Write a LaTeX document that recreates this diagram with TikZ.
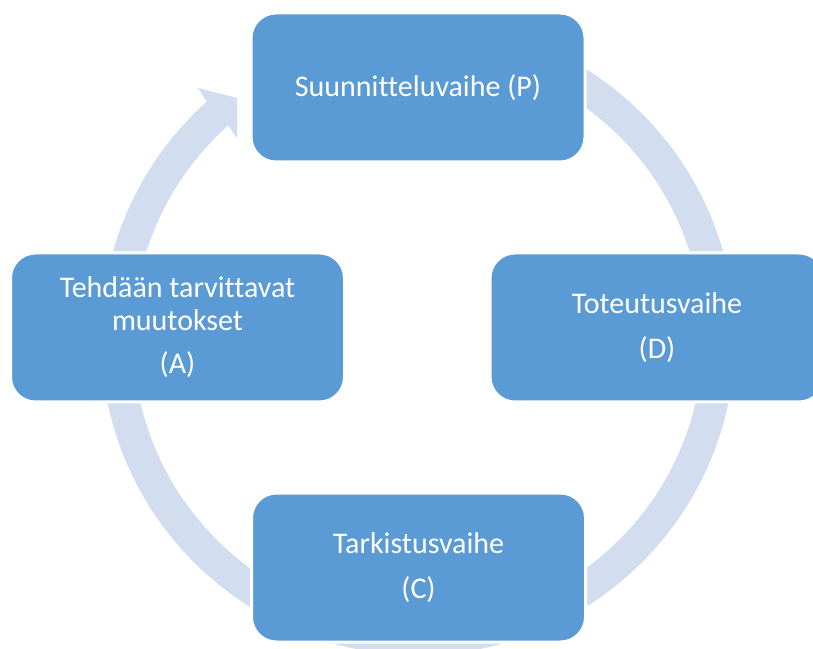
\documentclass[tikz,border=0pt]{standalone}
\usepackage{fontspec}
\setmainfont{Carlito}[Ligatures=NoCommon]
\usetikzlibrary{calc}
\definecolor{boxblue}{HTML}{5B9BD5}
\definecolor{ringblue}{HTML}{D2DEEF}
\tikzset{
  phasebox/.style={fill=boxblue, draw=white, line width=3pt, rounded corners=25pt,
    minimum width=334pt, minimum height=149pt, inner sep=0pt, text=white,
    align=center, font=\fontsize{30}{33}\selectfont},
  ringfill/.style={fill=ringblue}
}
\begin{document}
\begin{tikzpicture}[x=1pt,y=1pt]
  \useasboundingbox (0,0) rectangle (813,648);
  \clip (0,0) rectangle (813,648);
  \fill[white] (0,0) rectangle (813,648);
  \coordinate (c) at (418,310);
  % circular arrow running clockwise behind the phases
  \fill[ringfill] ($(c)+(131.8:317)$) -- (198,560) -- (237,550) -- (237,510)
    -- ($(c)+(131.8:285)$) arc[start angle=131.8, end angle=450, radius=285pt]
    -- ($(c)+(90:317)$) arc[start angle=450, end angle=131.8, radius=317pt] -- cycle;
  % phases
  \node[phasebox] (p) at (418,560.5) {Suunnitteluvaihe (P)};
  \node[phasebox] (d) at (657,320.5) {Toteutusvaihe\\[12pt](D)};
  \node[phasebox] (cc) at (418.5,80.5) {Tarkistusvaihe\\[12pt](C)};
  \node[phasebox] (a) at (177.5,320.5) {Tehdään tarvittavat\\muutokset\\[10pt](A)};
\end{tikzpicture}
\end{document}
